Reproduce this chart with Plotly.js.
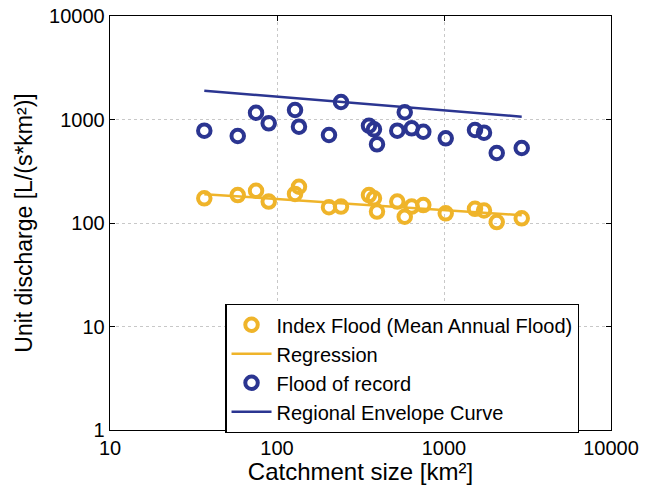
<!DOCTYPE html>
<html><head><meta charset="utf-8">
<script src="https://cdn.plot.ly/plotly-3.0.1.min.js"></script>
<style>body{margin:0;padding:0;background:#fff}#chart{width:651px;height:485px}</style>
</head><body><div id="chart"></div>
<script>
const catchmentArea = [36.7, 58.2, 74.9, 89.2, 128.2, 135.4, 204.8, 241.7, 355.5, 380.8, 397, 525, 582, 640.7, 751.6, 1024, 1533, 1736, 2069, 2920];
const indexFlood = [173, 186, 205, 161, 191, 224, 142, 144, 186, 173, 129, 161, 115, 144, 149, 124, 137, 132, 102, 111];
const floodOfRecord = [780, 693, 1163, 919, 1235, 852, 708, 1476, 871, 804, 576, 780, 1174, 822, 762, 658, 792, 746, 475, 530];
const regressionX = [36.7, 2920];
const regressionY = [190, 119];
const envelopeX = [36.7, 2920];
const envelopeY = [1897, 1064];
const xTicks = [10, 100, 1000, 10000];
const xTickLabels = ['10', '100', '1000', '10000'];
const yTicks = [1, 10, 100, 1000, 10000];
const yTickLabels = ['1', '10', '100', '1000', '10000'];

const yellow = '#EFB42A';
const blue = '#2B3591';
const font = 'Liberation Sans, Arial, sans-serif';

const traces = [
  {x: catchmentArea, y: indexFlood, mode: 'markers', type: 'scatter', name: 'Index Flood (Mean Annual Flood)',
   marker: {symbol: 'circle-open', size: 12.5, color: yellow, line: {width: 4, color: yellow}}},
  {x: regressionX, y: regressionY, mode: 'lines', type: 'scatter', name: 'Regression',
   line: {color: yellow, width: 2.5}},
  {x: catchmentArea, y: floodOfRecord, mode: 'markers', type: 'scatter', name: 'Flood of record',
   marker: {symbol: 'circle-open', size: 12.5, color: blue, line: {width: 4, color: blue}}},
  {x: envelopeX, y: envelopeY, mode: 'lines', type: 'scatter', name: 'Regional Envelope Curve',
   line: {color: blue, width: 2.5}}
];

const axisCommon = {
  type: 'log', showline: true, linecolor: '#000', linewidth: 1.3, mirror: 'ticks',
  ticks: 'inside', ticklen: 5, tickcolor: '#000', tickwidth: 1,
  showgrid: true, gridcolor: '#c8c8c8', griddash: 'dot', gridwidth: 1,
  zeroline: false, tickfont: {family: font, size: 20, color: '#000'}
};

const layout = {
  width: 651, height: 485,
  margin: {l: 110, r: 40, t: 16, b: 55},
  paper_bgcolor: '#fff', plot_bgcolor: '#fff',
  showlegend: true,
  xaxis: Object.assign({}, axisCommon, {
    range: [1, 4], tickvals: xTicks, ticktext: xTickLabels,
    title: {text: 'Catchment size [km²]', font: {family: font, size: 24, color: '#000'}, standoff: 0}
  }),
  yaxis: Object.assign({}, axisCommon, {
    range: [0, 4], tickvals: yTicks, ticktext: yTickLabels,
    title: {text: 'Unit discharge [L/(s*km²)]', font: {family: font, size: 23, color: '#000'}, standoff: 10}
  }),
  legend: {
    x: 0.23, y: 0.1486, xanchor: 'left', yanchor: 'middle',
    bgcolor: '#fff', bordercolor: '#000', borderwidth: 1.3,
    font: {family: font, size: 20, color: '#000'},
    tracegroupgap: 0, itemwidth: 40
  }
};

Plotly.newPlot('chart', traces, layout, {displayModeBar: false, staticPlot: true});
</script></body></html>
